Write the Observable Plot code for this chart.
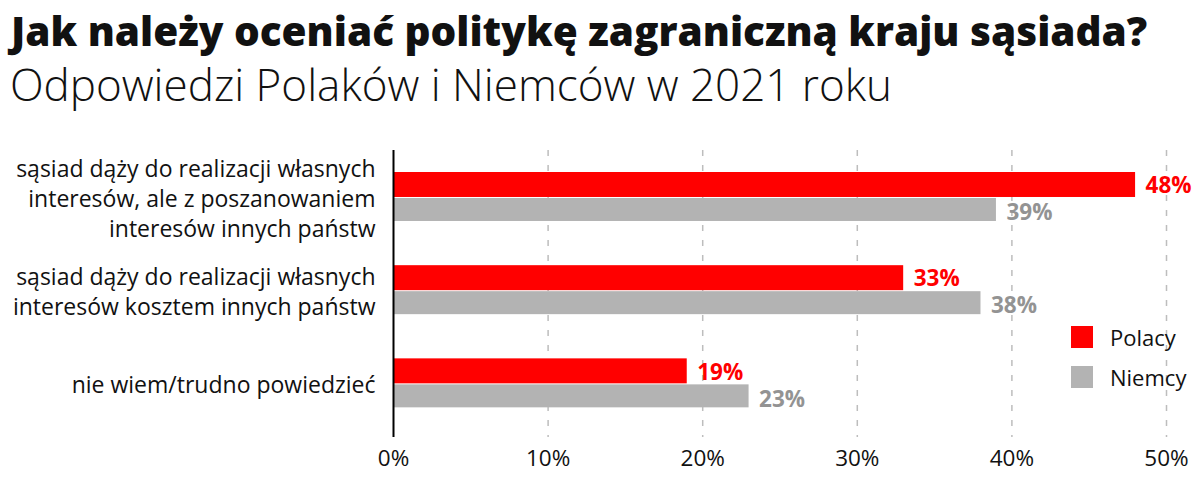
<!DOCTYPE html>
<html><head><meta charset="utf-8">
<script src="https://cdn.jsdelivr.net/npm/d3@7"></script>
<script src="https://cdn.jsdelivr.net/npm/@observablehq/plot@0.6"></script>
<style>
body{margin:0;background:#fff;font-family:"Open Sans",sans-serif}
#wrap{position:relative;width:1200px;height:480px;overflow:hidden;background:#fff}
#head{height:130px;position:relative}
#title{position:absolute;left:11px;top:3px;font-size:40.5px;font-weight:800;color:#111;white-space:nowrap;letter-spacing:0}
#subtitle{position:absolute;left:10px;top:54px;font-size:44px;font-weight:300;color:#111;white-space:nowrap}
#legend{position:absolute;left:1071px;top:326px;font-size:22px;color:#111}
.item{display:flex;align-items:center;height:22px;margin-bottom:18px}
.sw{width:22px;height:22px;margin-right:17px}
</style></head>
<body>
<div id="wrap">
  <div id="head">
    <div id="title">Jak należy oceniać politykę zagraniczną kraju sąsiada?</div>
    <div id="subtitle">Odpowiedzi Polaków i Niemców w 2021 roku</div>
  </div>
  <div id="chart"></div>
  <div id="legend"></div>
</div>
<script>
const categories = [
  "sąsiad dąży do realizacji własnych\ninteresów, ale z poszanowaniem\ninteresów innych państw",
  "sąsiad dąży do realizacji własnych\ninteresów kosztem innych państw",
  "nie wiem/trudno powiedzieć"
];
const series = ["Polacy", "Niemcy"];
const polacy = [48, 33, 19];
const niemcy = [39, 38, 23];
const xTicks = [0, 10, 20, 30, 40, 50];
const colors = ["#ff0000", "#b3b3b3"];
const labelColors = ["#ff0000", "#939393"];

const rowsP = categories.map((c, i) => ({category: c, series: series[0], value: polacy[i]}));
const rowsN = categories.map((c, i) => ({category: c, series: series[1], value: niemcy[i]}));

const chart = Plot.plot({
  width: 1200,
  height: 350,
  marginLeft: 393,
  marginRight: 34,
  marginTop: 20,
  marginBottom: 43,
  style: {fontFamily: "'Open Sans', sans-serif", fontSize: "22px", color: "#111", background: "#fff", overflow: "visible"},
  x: {domain: [0, 50], axis: null},
  y: {domain: categories, axis: null, paddingInner: 0, paddingOuter: 0.04, align: 0, round: false},
  marks: [
    Plot.gridX(xTicks.slice(1), {stroke: "#bdbdbd", strokeOpacity: 1, strokeWidth: 1.5, strokeDasharray: "6,9"}),
    Plot.barX(rowsP, {x: "value", y: "category", fill: colors[0], insetTop: 22, insetBottom: 46.2}),
    Plot.barX(rowsN, {x: "value", y: "category", fill: colors[1], insetTop: 48, insetBottom: 22.2}),
    Plot.ruleX([0], {stroke: "#000", strokeWidth: 2}),
    Plot.text(rowsP, {x: "value", y: "category", text: d => d.value + "%", dx: 10, dy: -11, textAnchor: "start", fill: labelColors[0], fontWeight: "bold", fontSize: 22.5}),
    Plot.text(rowsN, {x: "value", y: "category", text: d => d.value + "%", dx: 10, dy: 16, textAnchor: "start", fill: labelColors[1], fontWeight: "bold", fontSize: 22.5}),
    Plot.axisX(xTicks, {tickFormat: d => d + "%", tickSize: 0, tickPadding: 13, fontSize: 22.5, fill: "#111", label: null}),
    Plot.axisY({tickSize: 0, tickPadding: 18, fontSize: 23, lineHeight: 1.3, fill: "#111", label: null, textAnchor: "end"})
  ]
});
document.getElementById("chart").appendChild(chart);

const legend = document.getElementById("legend");
series.forEach((s, i) => {
  const it = document.createElement("div");
  it.className = "item";
  it.innerHTML = `<div class="sw" style="background:${colors[i]}"></div><span>${s}</span>`;
  legend.appendChild(it);
});
</script>
</body></html>
